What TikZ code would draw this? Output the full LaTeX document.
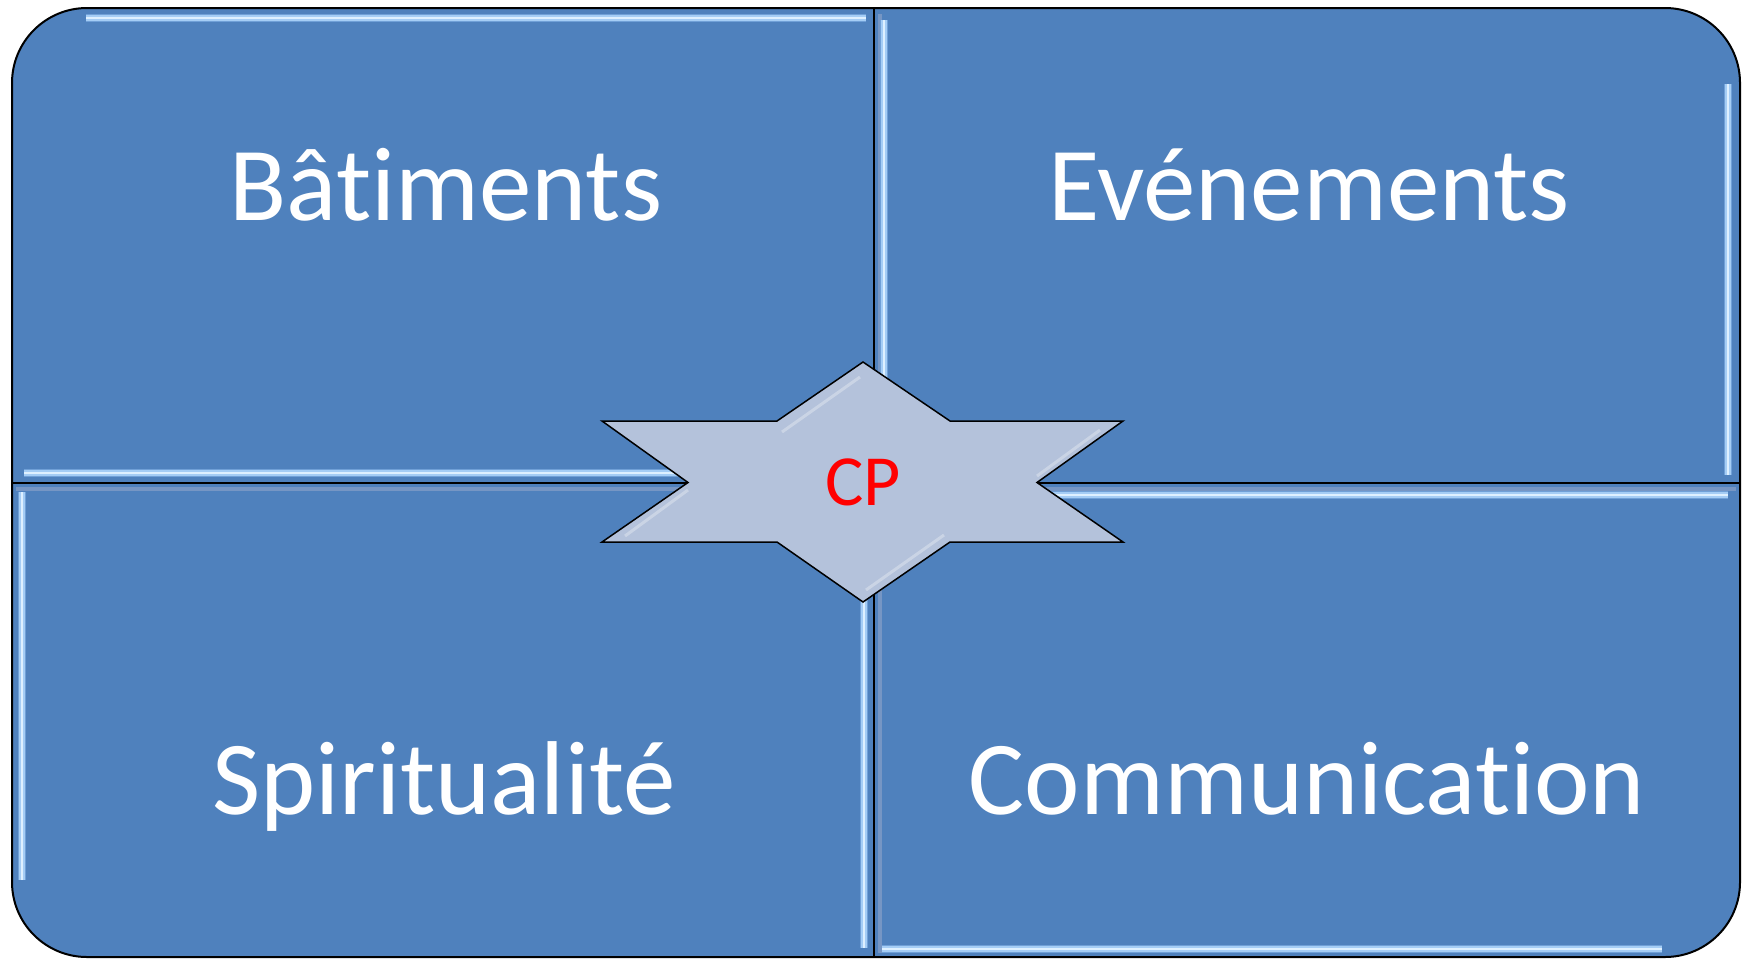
\documentclass[tikz,border=0pt]{standalone}
\usepackage{fontspec}
\setmainfont[Ligatures=NoCommon]{Carlito}
\definecolor{qblue}{RGB}{79,129,189}
\definecolor{starfill}{RGB}{180,194,219}
\definecolor{hlcore}{RGB}{222,240,255}
\definecolor{hlmid}{RGB}{165,205,245}
\definecolor{hlglow}{RGB}{112,160,215}
\definecolor{edgeband}{RGB}{118,150,196}
\begin{document}
\begin{tikzpicture}[x=0.5pt,y=-0.5pt,
  quad/.style={fill=qblue, draw=black, line width=1pt},
  divider/.style={draw=black, line width=1pt},
  hl/.style={draw=hlcore, line width=1.2pt,
    preaction={draw=hlglow, line width=4.4pt},
    preaction={draw=hlmid, line width=2.6pt}},
  band/.style={draw=edgeband, line width=2pt},
  starshape/.style={fill=starfill, draw=black, line width=0.75pt, line join=miter},
  starhl/.style={draw=white, opacity=0.3, line width=1.5pt},
  lbl/.style={text=white, font=\fontsize{52.5}{60}\selectfont, anchor=base, inner sep=0pt},
  cplbl/.style={text=red, font=\fontsize{36}{42}\selectfont, anchor=base, inner sep=0pt}
]
\useasboundingbox (0,0) rectangle (1748,958);
% outer frame
\path[quad, rounded corners=37.5pt] (12,8) rectangle (1740,957);
% inner dark bands near dividers
\draw[band] (16,489) -- (1736,489);
\draw[band] (880,14) -- (880,953);
% highlights
\draw[hl] (86,18) -- (866,18);
\draw[hl] (24,473) -- (700,473);
\draw[hl] (884,20) -- (884,380);
\draw[hl] (1728,84) -- (1728,475);
\draw[hl] (22,492) -- (22,880);
\draw[hl] (864,600) -- (864,948);
\draw[hl] (1030,495) -- (1728,495);
\draw[hl] (882,949) -- (1662,949);
% dividers
\draw[divider] (874,8) -- (874,957);
\draw[divider] (12,483) -- (1740,483);
% central star
\draw[starshape] (863,362) -- (950,421) -- (1123,421) -- (1037,482.5) -- (1123,542) -- (950,542) -- (863,602) -- (777,542) -- (602,542) -- (688,482.5) -- (602,421) -- (777,421) -- cycle;
\draw[starhl] (782,432) -- (860,377);
\draw[starhl] (625,536) -- (688,490);
\draw[starhl] (866,590) -- (944,535);
\draw[starhl] (1037,476) -- (1100,430);
% labels
\node[lbl] (bat) at (446,220) {Bâtiments};
\node[lbl] (eve) at (1309,220) {Evénements};
\node[lbl] (spi) at (444,814) {Spiritualité};
\node[lbl] (com) at (1307,814) {Communication};
\node[cplbl] (cp) at (863,505) {CP};
\end{tikzpicture}
\end{document}
